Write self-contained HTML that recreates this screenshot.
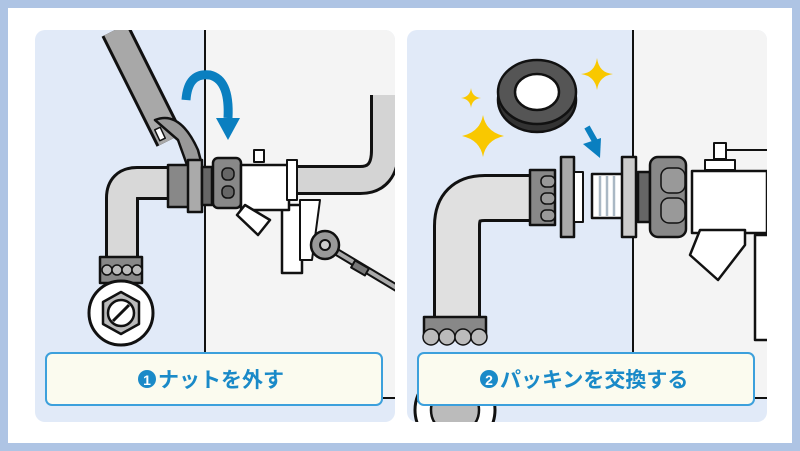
<!DOCTYPE html>
<html><head><meta charset="utf-8"><style>
html,body{margin:0;padding:0;background:#fff}
svg{display:block}
text{font-family:"Liberation Sans","Noto Sans CJK JP",sans-serif;font-weight:bold}
</style></head><body>
<svg width="800" height="451" viewBox="0 0 800 451" xmlns="http://www.w3.org/2000/svg">
<rect x="0" y="0" width="800" height="451" fill="#fff"/>
<rect x="4" y="4" width="792" height="443" fill="none" stroke="#aec4e4" stroke-width="8"/>
<defs>
<clipPath id="c1"><rect x="35" y="30" width="360" height="392" rx="10"/></clipPath>
<clipPath id="c2"><rect x="407" y="30" width="360" height="392" rx="10"/></clipPath>
</defs>
<!-- LEFT PANEL -->
<g clip-path="url(#c1)" stroke-linejoin="round">
<rect x="35" y="30" width="360" height="392" fill="#e1eaf8"/>
<rect x="205" y="30" width="190" height="368" fill="#f4f4f4"/>
<line x1="205" y1="30" x2="205" y2="398" stroke="#111" stroke-width="2"/>
<line x1="383" y1="398" x2="395" y2="398" stroke="#111" stroke-width="2"/>
<path d="M285,180 L360,180 Q385,180 385,150 L385,95" fill="none" stroke="#111" stroke-width="30"/>
<path d="M285,180 L360,180 Q385,180 385,150 L385,95" fill="none" stroke="#d4d4d4" stroke-width="24"/>
<rect x="282" y="205" width="20" height="68" fill="#fff" stroke="#111" stroke-width="2.5"/>
<path d="M300,200 L320,200 L312,260 L300,260Z" fill="#fff" stroke="#111" stroke-width="2"/>
<line x1="325" y1="245" x2="400" y2="290" stroke="#111" stroke-width="8"/>
<line x1="325" y1="245" x2="400" y2="290" stroke="#aaa" stroke-width="4"/>
<circle cx="325" cy="245" r="14" fill="#999" stroke="#111" stroke-width="2.5"/>
<circle cx="325" cy="245" r="5" fill="#ccc" stroke="#111" stroke-width="2"/>
<rect x="356" y="260" width="8" height="16" fill="#777" stroke="#111" stroke-width="2" transform="rotate(-60 360 268)"/>
<path d="M175,183 L137,183 Q122,183 122,198 L122,262" fill="none" stroke="#111" stroke-width="34"/>
<path d="M175,183 L137,183 Q122,183 122,198 L122,262" fill="none" stroke="#d8d8d8" stroke-width="28"/>
<rect x="100" y="257" width="42" height="26" fill="#888" stroke="#111" stroke-width="2.5"/>
<g fill="#bbb" stroke="#111" stroke-width="1.5"><circle cx="107" cy="270" r="5"/><circle cx="117" cy="270" r="5"/><circle cx="127" cy="270" r="5"/><circle cx="137" cy="270" r="5"/></g>
<circle cx="121" cy="313" r="32" fill="#fff" stroke="#111" stroke-width="3"/>
<polygon points="121,292 139,302 139,324 121,334 103,324 103,302" fill="#bbb" stroke="#111" stroke-width="2.5"/>
<circle cx="121" cy="313" r="13" fill="#fff" stroke="#111" stroke-width="2.5"/>
<line x1="113" y1="321" x2="129" y2="305" stroke="#111" stroke-width="3"/>
<path d="M115,30 L170,140" stroke="#111" stroke-width="30" fill="none"/>
<path d="M115,30 L170,140" stroke="#a8a8a8" stroke-width="24" fill="none"/>
<path d="M155,120 Q180,110 198,150 L202,165 L187,165 L178,140 Z" fill="#999" stroke="#111" stroke-width="2.5"/>
<rect x="157" y="128" width="6" height="12" fill="#fff" stroke="#111" stroke-width="1.5" transform="rotate(-25 160 134)"/>
<rect x="168" y="165" width="22" height="42" fill="#888" stroke="#111" stroke-width="2.5"/>
<rect x="188" y="160" width="14" height="52" fill="#aaa" stroke="#111" stroke-width="2.5"/>
<rect x="202" y="167" width="10" height="38" fill="#666" stroke="#111" stroke-width="2.5"/>
<rect x="213" y="158" width="28" height="50" rx="5" fill="#888" stroke="#111" stroke-width="2.5"/>
<rect x="222" y="168" width="12" height="12" rx="5" fill="#666" stroke="#111" stroke-width="1.5"/>
<rect x="222" y="186" width="12" height="12" rx="5" fill="#666" stroke="#111" stroke-width="1.5"/>
<rect x="241" y="165" width="48" height="45" fill="#fff" stroke="#111" stroke-width="2.5"/>
<path d="M245,205 L237,215 L258,235 L270,220Z" fill="#fff" stroke="#111" stroke-width="2.5"/>
<rect x="254" y="150" width="10" height="12" fill="#fff" stroke="#111" stroke-width="2"/>
<rect x="287" y="160" width="10" height="40" fill="#fff" stroke="#111" stroke-width="2"/>
<path d="M186,100 Q188,72 210,75 Q230,80 228,118" fill="none" stroke="#0a7fc0" stroke-width="9"/>
<polygon points="216,118 240,118 228,140" fill="#0a7fc0"/>
<rect x="46" y="353" width="336" height="52" rx="6" fill="#fbfbef" stroke="#3ca0dc" stroke-width="2"/>
<circle cx="147" cy="379" r="9" fill="#1a8ac8"/>
<text x="147" y="385" font-size="14" fill="#fff" text-anchor="middle">1</text>
<text x="158" y="387" font-size="21" fill="#1a8ac8">ナットを外す</text>
</g>
<!-- RIGHT PANEL -->
<g clip-path="url(#c2)" stroke-linejoin="round">
<rect x="407" y="30" width="360" height="392" fill="#e1eaf8"/>
<rect x="633" y="30" width="134" height="368" fill="#f4f4f4"/>
<line x1="633" y1="30" x2="633" y2="398" stroke="#111" stroke-width="2"/>
<line x1="755" y1="398" x2="767" y2="398" stroke="#111" stroke-width="2"/>
<path d="M535,198 L485,198 Q457,198 457,226 L457,330" fill="none" stroke="#111" stroke-width="48"/>
<path d="M535,198 L485,198 Q457,198 457,226 L457,330" fill="none" stroke="#e0e0e0" stroke-width="42"/>
<rect x="424" y="317" width="62" height="20" fill="#888" stroke="#111" stroke-width="2.5"/>
<g fill="#bbb" stroke="#111" stroke-width="1.5"><circle cx="431" cy="337" r="8"/><circle cx="447" cy="337" r="8"/><circle cx="463" cy="337" r="8"/><circle cx="479" cy="337" r="8"/></g>
<circle cx="455" cy="410" r="40" fill="#fff" stroke="#111" stroke-width="3"/>
<circle cx="455" cy="410" r="24" fill="#bbb" stroke="#111" stroke-width="2.5"/>
<rect x="530" y="170" width="25" height="55" fill="#888" stroke="#111" stroke-width="2.5"/>
<rect x="541" y="176" width="14" height="11" rx="5" fill="#999" stroke="#111" stroke-width="1.5"/>
<rect x="541" y="193" width="14" height="11" rx="5" fill="#999" stroke="#111" stroke-width="1.5"/>
<rect x="541" y="210" width="14" height="11" rx="5" fill="#999" stroke="#111" stroke-width="1.5"/>
<rect x="561" y="157" width="13" height="80" fill="#aaa" stroke="#111" stroke-width="2.5"/>
<rect x="574" y="172" width="9" height="50" fill="#fff" stroke="#111" stroke-width="2"/>
<rect x="592" y="174" width="32" height="44" fill="#fff" stroke="#111" stroke-width="2.5"/>
<g stroke="#aab8c4" stroke-width="2.5"><line x1="600" y1="176" x2="600" y2="216"/><line x1="607" y1="176" x2="607" y2="216"/><line x1="614" y1="176" x2="614" y2="216"/></g>
<rect x="622" y="157" width="14" height="80" fill="#ccc" stroke="#111" stroke-width="2.5"/>
<rect x="638" y="172" width="12" height="50" fill="#666" stroke="#111" stroke-width="2.5"/>
<rect x="650" y="157" width="36" height="80" rx="8" fill="#888" stroke="#111" stroke-width="2.5"/>
<rect x="661" y="168" width="24" height="25" rx="8" fill="#999" stroke="#111" stroke-width="1.5"/>
<rect x="661" y="198" width="24" height="25" rx="8" fill="#999" stroke="#111" stroke-width="1.5"/>
<rect x="692" y="171" width="75" height="62" fill="#fff" stroke="#111" stroke-width="2.5"/>
<path d="M700,230 L690,255 L718,280 L745,245 L745,230Z" fill="#fff" stroke="#111" stroke-width="2.5"/>
<rect x="714" y="143" width="12" height="16" fill="#fff" stroke="#111" stroke-width="2"/>
<rect x="705" y="160" width="30" height="10" fill="#fff" stroke="#111" stroke-width="2"/>
<line x1="726" y1="150" x2="767" y2="150" stroke="#111" stroke-width="2"/>
<path d="M767,235 L755,235 L755,340 L767,340" fill="#fff" stroke="#111" stroke-width="2.5"/>
<ellipse cx="537" cy="100" rx="39" ry="32" fill="#333" stroke="#111" stroke-width="2.5"/>
<ellipse cx="537" cy="92" rx="39" ry="32" fill="#555" stroke="#111" stroke-width="2.5"/>
<ellipse cx="537" cy="92" rx="22" ry="18" fill="#fff" stroke="#111" stroke-width="2.5"/>
<line x1="587" y1="127" x2="596" y2="143" stroke="#0a7fc0" stroke-width="6"/>
<polygon points="583,144 601,138 600,158" fill="#0a7fc0"/>
<g fill="#f9c800">
<path d="M597,58 Q599,73 613,74 Q599,76 597,90 Q595,76 581,74 Q595,73 597,58Z"/>
<path d="M471,88 Q472,97 481,98 Q472,99 471,108 Q470,99 461,98 Q470,97 471,88Z"/>
<path d="M483,115 Q486,132 504,136 Q486,140 483,157 Q480,140 462,136 Q480,132 483,115Z"/>
</g>
<rect x="418" y="353" width="336" height="52" rx="6" fill="#fbfbef" stroke="#3ca0dc" stroke-width="2"/>
<circle cx="489" cy="379" r="9" fill="#1a8ac8"/>
<text x="489" y="385" font-size="14" fill="#fff" text-anchor="middle">2</text>
<text x="500" y="387" font-size="21" fill="#1a8ac8">パッキンを交換する</text>
</g>
</svg>
</body></html>
